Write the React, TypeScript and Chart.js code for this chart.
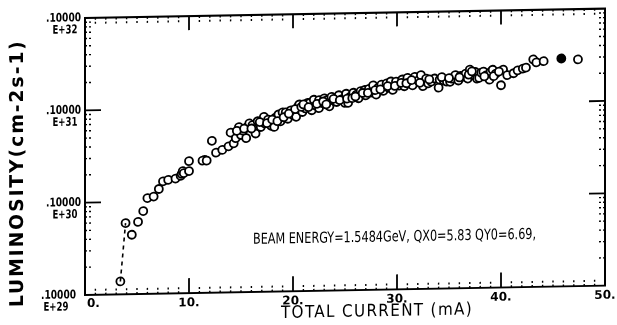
import React, { useEffect, useRef } from 'react';
import { Chart, registerables } from 'chart.js';

Chart.register(...registerables);

// [total current (mA), luminosity (cm-2 s-1)]
const openCircles: [number, number][] = [
  [3.4, 1.38e29], [3.9, 5.9e29], [4.5, 4.4e29], [5.1, 6.05e29], [5.6, 7.9e29],
  [6.0, 1.09e30], [6.6, 1.13e30], [7.1, 1.36e30], [7.5, 1.64e30], [8.0, 1.7e30],
  [8.7, 1.75e30], [9.2, 1.87e30], [9.3, 1.96e30], [9.4, 2.1e30], [9.5, 2.0e30],
  [10.0, 2.1e30], [10.0, 2.69e30], [11.3, 2.7e30], [11.7, 2.7e30], [12.2, 4.42e30],
  [12.6, 3.28e30], [13.2, 3.5e30], [13.8, 3.82e30], [14.0, 5.38e30], [14.3, 4.1e30],
  [14.5, 4.67e30], [14.8, 6.15e30], [15.0, 5.04e30], [15.2, 5.6e30], [15.5, 4.65e30],
  [15.6, 6.14e30], [15.8, 6.7e30], [16.1, 6.4e30], [16.3, 5.75e30], [16.4, 5.2e30],
  [16.6, 7.05e30], [16.9, 6.1e30], [17.2, 7.85e30], [17.3, 6.65e30], [17.6, 7.3e30],
  [17.9, 6.26e30], [18.2, 6.07e30], [18.3, 7.63e30], [18.6, 8.26e30], [18.8, 6.97e30],
  [19.0, 8.7e30], [19.3, 8.7e30], [19.5, 7.4e30], [19.8, 9.13e30], [20.0, 8.1e30],
  [20.3, 7.74e30], [20.5, 1.0e31], [20.6, 1.05e31], [20.9, 8.7e30], [21.2, 9.5e30],
  [21.4, 1.09e31], [21.6, 1.086e31], [21.8, 9.05e30], [22.0, 1.175e31], [22.2, 1.01e31],
  [22.5, 1.16e31], [22.5, 9.5e30], [22.8, 1.08e31], [23.0, 1.21e31], [23.3, 1.16e31],
  [23.5, 9.9e30], [23.7, 1.25e31], [24.0, 1.12e31], [24.2, 1.1e31], [24.4, 1.3e31],
  [24.7, 1.18e31], [25.0, 1.07e31], [25.1, 1.345e31], [25.3, 1.07e31], [25.5, 1.245e31],
  [25.8, 1.375e31], [26.1, 1.31e31], [26.3, 1.195e31], [26.5, 1.43e31], [26.9, 1.465e31],
  [27.0, 1.28e31], [27.3, 1.5e31], [27.5, 1.365e31], [27.7, 1.64e31], [28.0, 1.3e31],
  [28.2, 1.54e31], [28.5, 1.665e31], [28.7, 1.42e31], [29.0, 1.71e31], [29.2, 1.53e31],
  [29.4, 1.79e31], [29.6, 1.45e31], [29.9, 1.78e31], [30.2, 1.61e31], [30.5, 1.87e31],
  [30.7, 1.58e31], [31.0, 1.94e31], [31.2, 1.73e31], [31.5, 1.61e31], [31.7, 1.99e31],
  [32.0, 1.81e31], [32.3, 2.07e31], [32.5, 1.57e31], [32.8, 1.89e31], [33.0, 1.68e31],
  [33.3, 1.75e31], [33.6, 1.89e31], [34.0, 1.5e31], [34.1, 1.83e31], [34.5, 1.79e31],
  [34.8, 1.74e31], [35.1, 1.73e31], [35.3, 1.87e31], [35.6, 2.04e31], [35.9, 1.78e31],
  [36.1, 1.99e31], [36.3, 1.94e31], [36.6, 2.11e31], [36.8, 1.86e31], [37.0, 2.32e31],
  [37.3, 2.02e31], [37.5, 2.19e31], [37.7, 1.85e31], [37.9, 1.88e31], [38.1, 2.14e31],
  [38.3, 2.2e31], [38.6, 2.01e31], [38.9, 1.79e31], [39.0, 2.17e31], [39.2, 2.29e31],
  [39.5, 2.08e31], [40.0, 1.55e31], [40.2, 2.29e31], [40.6, 1.99e31], [41.2, 2.08e31],
  [41.6, 2.23e31], [42.1, 2.32e31], [42.4, 2.38e31], [43.1, 2.91e31], [43.4, 2.7e31],
  [44.1, 2.77e31], [47.4, 2.85e31],
  [14.6, 5.6e30], [15.3, 5.9e30], [16.0, 5.9e30], [16.8, 6.9e30], [17.5, 6.7e30],
  [18.0, 7.3e30], [18.5, 7.0e30], [19.1, 7.7e30], [19.6, 8.4e30], [20.2, 9.4e30],
  [20.8, 9.9e30], [21.0, 1.05e31], [21.5, 9.8e30], [22.3, 1.06e31], [22.9, 1.12e31],
  [23.2, 1.04e31], [23.9, 1.19e31], [24.5, 1.15e31], [25.2, 1.19e31], [25.7, 1.2e31],
  [26.0, 1.25e31], [26.7, 1.36e31], [27.2, 1.36e31], [27.9, 1.45e31], [28.4, 1.48e31],
  [29.1, 1.6e31], [29.8, 1.6e31], [30.4, 1.72e31], [30.9, 1.7e31], [31.4, 1.83e31],
  [32.2, 1.71e31], [33.1, 1.85e31], [34.3, 1.95e31], [35.0, 1.9e31], [36.0, 1.92e31],
  [36.9, 2.05e31], [37.2, 2.22e31], [38.4, 1.95e31], [39.3, 1.95e31], [39.8, 2.18e31],
];

const filledCircles: [number, number][] = [
  [11.5, 2.75e30], [45.8, 2.94e31],
];

const dashedLink: [number, number][] = [
  [3.4, 1.38e29], [3.9, 5.9e29],
];

const xTickValues = [0, 10, 20, 30, 40, 50];
const xTickLabels = ['0.', '10.', '20.', '30.', '40.', '50.'];
const yTickValues = [1e29, 1e30, 1e31, 1e32];
const yTickMantissas = ['.10000', '.10000', '.10000', '.10000'];
const yTickExponents = ['E+29', 'E+30', 'E+31', 'E+32'];
const xTitle = 'TOTAL CURRENT (mA)';
const yTitle = 'LUMINOSITY(cm-2s-1)';
const noteText = 'BEAM ENERGY=1.5484GeV, QX0=5.83 QY0=6.69,';

const SHEAR = -0.018;
const SHEAR_X0 = 85;
const INK = '#000';

const toXY = (pts: [number, number][]) => pts.map(([x, y]) => ({ x, y }));

const plotterPlugin = {
  id: 'plotter',
  beforeDraw(chart: any) {
    const ctx = chart.ctx;
    ctx.save();
    ctx.transform(1, SHEAR, 0, 1, 0, -SHEAR * SHEAR_X0);
  },
  afterDraw(chart: any) {
    const ctx = chart.ctx as CanvasRenderingContext2D;
    const { left, right, top, bottom } = chart.chartArea;
    const xs = chart.scales.x;
    const ys = chart.scales.y;

    ctx.save();
    ctx.strokeStyle = INK;
    ctx.fillStyle = INK;
    ctx.lineCap = 'butt';

    // frame
    ctx.lineWidth = 2;
    ctx.strokeRect(left, top, right - left, bottom - top);

    // x ticks
    for (let v = 1; v < 50; v++) {
      const px = xs.getPixelForValue(v);
      const major = v % 10 === 0;
      ctx.beginPath();
      if (major) {
        ctx.setLineDash([]);
        ctx.lineWidth = 1.8;
        ctx.moveTo(px, bottom);
        ctx.lineTo(px, bottom - 15);
        ctx.moveTo(px, top);
        ctx.lineTo(px, top + 14);
      } else {
        ctx.setLineDash([2, 2]);
        ctx.lineWidth = 1.4;
        ctx.moveTo(px, bottom);
        ctx.lineTo(px, bottom - 8);
        ctx.moveTo(px, top);
        ctx.lineTo(px, top + 8);
      }
      ctx.stroke();
    }

    // y ticks
    for (let d = 29; d <= 31; d++) {
      for (let m = 1; m <= 9; m++) {
        if (d === 29 && m === 1) continue;
        const v = m * Math.pow(10, d);
        const py = ys.getPixelForValue(v);
        ctx.beginPath();
        if (m === 1) {
          ctx.setLineDash([]);
          ctx.lineWidth = 1.8;
          ctx.moveTo(left, py);
          ctx.lineTo(left + 16, py);
          ctx.moveTo(right, py);
          ctx.lineTo(right - 16, py);
        } else {
          ctx.setLineDash([2, 2]);
          ctx.lineWidth = 1.4;
          ctx.moveTo(left, py);
          ctx.lineTo(left + 8, py);
          ctx.moveTo(right, py);
          ctx.lineTo(right - 8, py);
        }
        ctx.stroke();
      }
    }
    ctx.setLineDash([]);

    // x tick labels
    ctx.font = 'bold 12px "DejaVu Sans"';
    ctx.textBaseline = 'middle';
    xTickValues.forEach((v, i) => {
      const px = xs.getPixelForValue(v);
      if (i === 0) {
        ctx.textAlign = 'left';
        ctx.fillText(xTickLabels[i], px + 2, bottom + 9);
      } else {
        ctx.textAlign = 'center';
        ctx.fillText(xTickLabels[i], px, bottom + 10);
      }
    });

    // y tick labels
    yTickValues.forEach((v, i) => {
      const py = ys.getPixelForValue(v);
      const isBottom = i === 0;
      ctx.font = 'bold 12px "DejaVu Sans"';
      ctx.textAlign = 'right';
      ctx.fillText(yTickMantissas[i], isBottom ? left - 9 : left - 4, py, 35);
      ctx.textAlign = 'center';
      ctx.fillText(yTickExponents[i], isBottom ? left - 29 : left - 20, py + 12, 25);
    });

    // titles
    (ctx as any).letterSpacing = '1.5px';
    ctx.font = '17px "DejaVu Sans"';
    ctx.textAlign = 'center';
    ctx.fillText(xTitle, 377, 317, 192);

    ctx.save();
    (ctx as any).letterSpacing = '2px';
    ctx.font = 'bold 19px "DejaVu Sans"';
    ctx.translate(18, 172);
    ctx.rotate(-Math.PI / 2);
    ctx.fillText(yTitle, 0, 0, 268);
    ctx.restore();

    // annotation
    (ctx as any).letterSpacing = '0px';
    ctx.font = '15px "DejaVu Sans"';
    ctx.textAlign = 'left';
    ctx.fillText(noteText, 253, 243, 283);

    ctx.restore();
    ctx.restore();
  },
};

export default function App() {
  const ref = useRef<HTMLCanvasElement | null>(null);

  useEffect(() => {
    document.body.style.margin = '0';
    const canvas = ref.current;
    if (!canvas) return;
    const chart = new Chart(canvas, {
      type: 'scatter',
      data: {
        datasets: [
          {
            data: toXY(dashedLink),
            showLine: true,
            borderColor: INK,
            borderWidth: 1.6,
            borderDash: [4, 4],
            pointRadius: 0,
            clip: false,
          } as any,
          {
            data: toXY(openCircles),
            pointStyle: 'circle',
            pointRadius: 4,
            pointBorderWidth: 1.8,
            borderColor: INK,
            backgroundColor: '#fff',
            clip: false,
          } as any,
          {
            data: toXY(filledCircles),
            pointStyle: 'circle',
            pointRadius: 4,
            pointBorderWidth: 1.8,
            borderColor: INK,
            backgroundColor: INK,
            clip: false,
          } as any,
        ],
      },
      options: {
        animation: false,
        responsive: false,
        maintainAspectRatio: false,
        devicePixelRatio: 1,
        layout: { padding: { left: 85, right: 12, top: 18, bottom: 30 } },
        plugins: {
          legend: { display: false },
          tooltip: { enabled: false },
        },
        scales: {
          x: { type: 'linear', min: 0, max: 50, display: false },
          y: { type: 'logarithmic', min: 1e29, max: 1e32, display: false },
        },
      },
      plugins: [plotterPlugin],
    });
    return () => chart.destroy();
  }, []);

  return (
    <div style={{ width: 617, height: 325, background: '#fff' }}>
      <canvas ref={ref} width={617} height={325} style={{ display: 'block' }} />
    </div>
  );
}
